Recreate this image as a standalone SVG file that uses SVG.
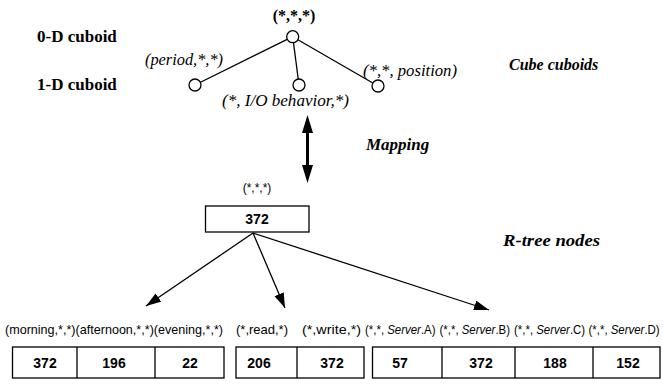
<svg xmlns="http://www.w3.org/2000/svg" width="663" height="385" viewBox="0 0 663 385">
<defs>
<style>
.serif{font-family:"Liberation Serif","Times New Roman",serif;font-size:16px;fill:#000}
.b{font-weight:bold}
.i{font-style:italic}
.sans{font-family:"Liberation Sans",Arial,sans-serif;fill:#000}
.lbl{font-size:13.5px}
.slbl{font-size:13px}
.num{font-size:14px;font-weight:bold;text-anchor:middle}
.box{fill:#fff;stroke:#000;stroke-width:1.3}
.div{stroke:#000;stroke-width:1.3}
.edge{stroke:#000;stroke-width:1.3;fill:none}
.node{fill:#fff;stroke:#000;stroke-width:1.3}
</style>
<marker id="ah" markerUnits="userSpaceOnUse" markerWidth="16" markerHeight="12" refX="15" refY="5" orient="auto">
<path d="M0,0 L15,5 L0,10 Z" fill="#000"/>
</marker>
</defs>

<g id="level-labels">
<text class="serif b" x="37" y="42" style="font-size:17px">0-D cuboid</text>
<text class="serif b" x="37" y="90" style="font-size:17px">1-D cuboid</text>
<text class="serif b i" x="509" y="70">Cube cuboids</text>
<text class="serif b i" x="366" y="150" style="font-size:17px">Mapping</text>
<text class="serif b i" x="503" y="246" textLength="97" lengthAdjust="spacingAndGlyphs">R-tree nodes</text>
</g>

<g id="connectors">
<line class="edge" x1="292.7" y1="36.7" x2="195" y2="85"/>
<line class="edge" x1="292.7" y1="36.7" x2="299" y2="85"/>
<line class="edge" x1="292.7" y1="36.7" x2="378" y2="86"/>
<line x1="307.5" y1="128" x2="307.5" y2="170" stroke="#000" stroke-width="3"/>
<polygon points="307.5,115 302,133 313,133" fill="#000"/>
<polygon points="307.5,183 302,165 313,165" fill="#000"/>
<line class="edge" x1="253" y1="233" x2="146" y2="306" marker-end="url(#ah)"/>
<line class="edge" x1="253" y1="233" x2="285" y2="308" marker-end="url(#ah)"/>
<line class="edge" x1="253" y1="233" x2="489" y2="310" marker-end="url(#ah)"/>
</g>

<g id="cuboid-root">
<circle class="node" cx="292.7" cy="36.7" r="6"/>
<text class="serif b" x="294" y="21" text-anchor="middle">(*,*,*)</text>
</g>
<g id="cuboid-period">
<circle class="node" cx="195" cy="85" r="6"/>
<text class="serif i" x="145" y="65" textLength="78" lengthAdjust="spacingAndGlyphs">(period,*,*)</text>
</g>
<g id="cuboid-io">
<circle class="node" cx="299" cy="85" r="6"/>
<text class="serif i" x="222" y="106" textLength="127" lengthAdjust="spacingAndGlyphs">(*, I/O behavior,*)</text>
</g>
<g id="cuboid-position">
<circle class="node" cx="378" cy="86" r="6"/>
<text class="serif i" x="363" y="76" textLength="94" lengthAdjust="spacingAndGlyphs">(*,*, position)</text>
</g>

<g id="rtree-root">
<text class="sans" x="257" y="192" text-anchor="middle" style="font-size:12px">(*,*,*)</text>
<rect class="box" x="205.5" y="206" width="103.5" height="26"/>
<text class="sans num" x="257" y="224">372</text>
</g>

<g id="rtree-period">
<text class="sans lbl" x="5" y="334" textLength="218" lengthAdjust="spacingAndGlyphs">(morning,*,*)(afternoon,*,*)(evening,*,*)</text>
<rect class="box" x="12.5" y="347" width="211.5" height="31"/>
<line class="div" x1="77" y1="347" x2="77" y2="378"/>
<line class="div" x1="155" y1="347" x2="155" y2="378"/>
<text class="sans num" x="45" y="368">372</text>
<text class="sans num" x="114" y="368">196</text>
<text class="sans num" x="190" y="368">22</text>
</g>

<g id="rtree-io">
<text class="sans lbl" x="236" y="334" textLength="52" lengthAdjust="spacingAndGlyphs">(*,read,*)</text>
<text class="sans lbl" x="302" y="334" textLength="59" lengthAdjust="spacingAndGlyphs">(*,write,*)</text>
<rect class="box" x="236" y="347" width="128" height="31"/>
<line class="div" x1="297" y1="347" x2="297" y2="378"/>
<text class="sans num" x="259" y="368">206</text>
<text class="sans num" x="332" y="368">372</text>
</g>

<g id="rtree-position">
<text class="sans slbl" transform="translate(365,334) scale(0.88,1)">(*,*, <tspan font-style="italic">Server</tspan>.A)</text>
<text class="sans slbl" transform="translate(439.5,334) scale(0.88,1)">(*,*, <tspan font-style="italic">Server</tspan>.B)</text>
<text class="sans slbl" transform="translate(514,334) scale(0.88,1)">(*,*, <tspan font-style="italic">Server</tspan>.C)</text>
<text class="sans slbl" transform="translate(588.5,334) scale(0.88,1)">(*,*, <tspan font-style="italic">Server</tspan>.D)</text>
<rect class="box" x="372.5" y="347" width="287.5" height="31"/>
<line class="div" x1="442" y1="347" x2="442" y2="378"/>
<line class="div" x1="515" y1="347" x2="515" y2="378"/>
<line class="div" x1="593" y1="347" x2="593" y2="378"/>
<text class="sans num" x="400" y="368">57</text>
<text class="sans num" x="481" y="368">372</text>
<text class="sans num" x="555" y="368">188</text>
<text class="sans num" x="628" y="368">152</text>
</g>
</svg>
